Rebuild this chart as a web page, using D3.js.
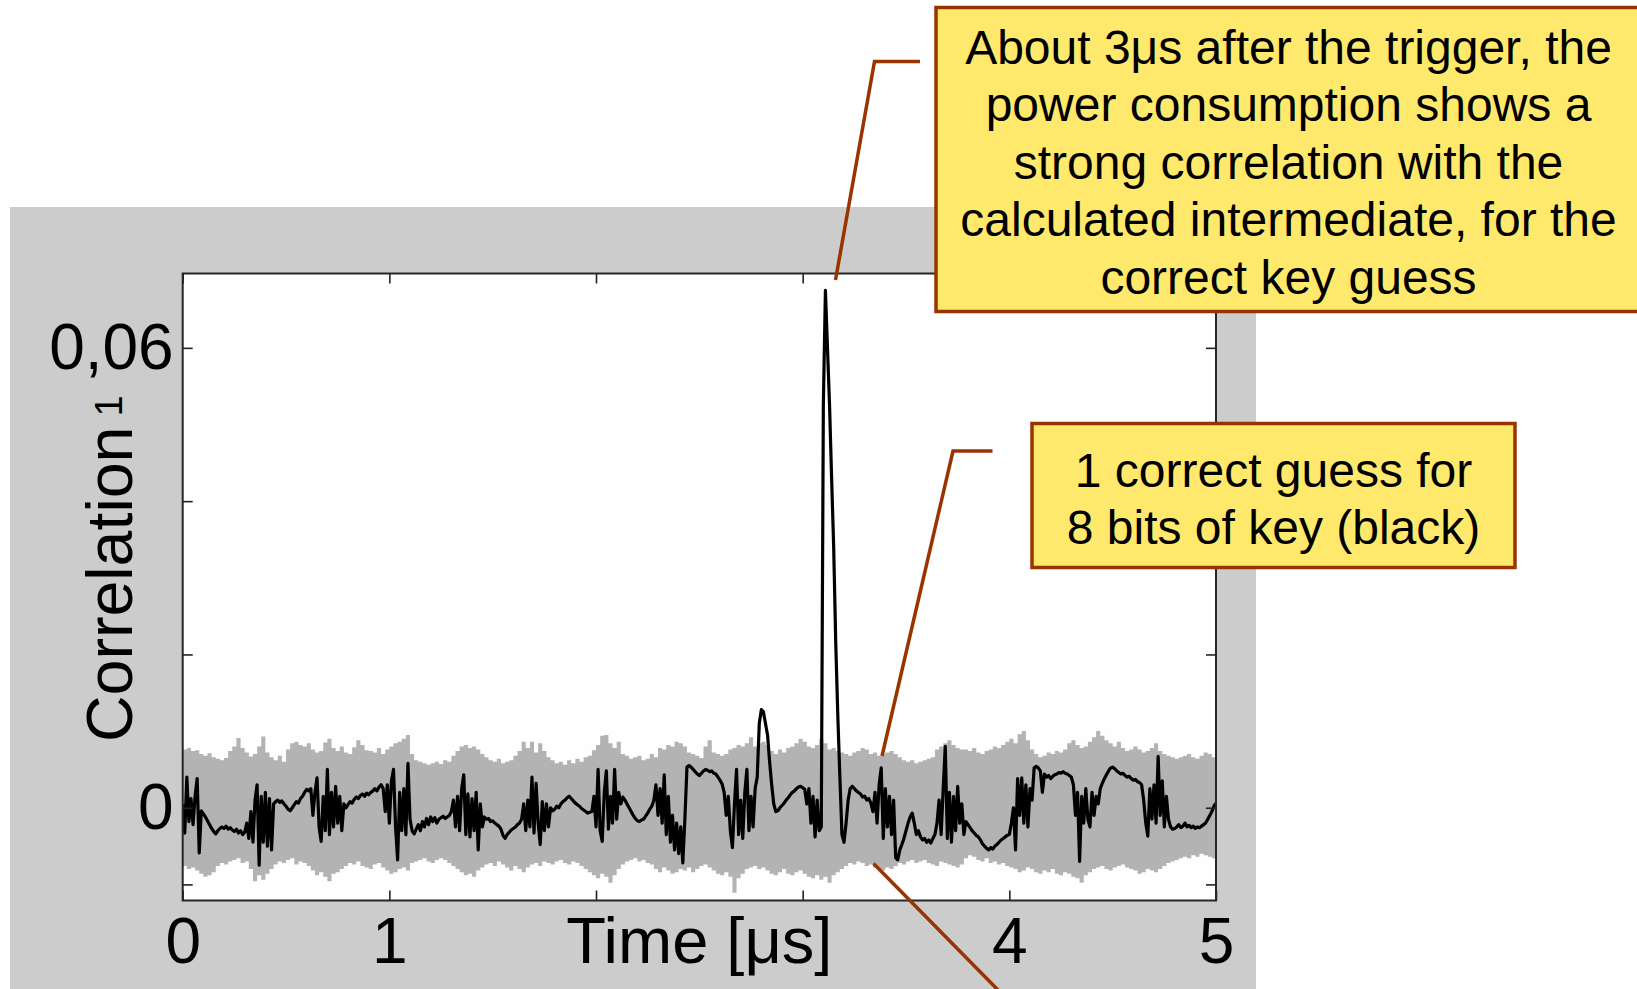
<!DOCTYPE html>
<html>
<head>
<meta charset="utf-8">
<script src="https://cdn.jsdelivr.net/npm/d3@7"></script>
<style>
  html, body { margin: 0; padding: 0; background: #fff; }
  svg { display: block; font-family: "Liberation Sans", Arial, sans-serif; }
</style>
</head>
<body>
<svg width="1637" height="989"></svg>
<script>
// correlation of the correct key guess, in units of 1e-4, one value every 0.01 µs
const correctStep = 0.01;
const correctGuess = [
  5, -33, 40, -18, 12, -22, 15, 38, -59, -4,
  -8, -12, -17, -22, -27, -31, -34, -30, -27, -25,
  -27, -24, -28, -26, -29, -31, -28, -33, -30, -35,
  -32, -20, -40, -5, -45, 10, 30, -75, 15, -45,
  20, -50, 12, -55, 5, 8, 10, 7, 9, 5,
  2, -2, -4, 0, 4, 8, 6, 12, 15, 20,
  24, 22, 25, -10, 20, 39, -25, -44, 15, -30,
  50, -35, 20, -25, 28, -20, 15, -30, 5, 0,
  4, 8, 6, 11, 14, 12, 16, 18, 15, 19,
  17, 20, 22, 25, 22, 27, 30, 25, -5, 30,
  -20, 35, 50, -25, -68, 20, -30, 25, -35, 58,
  -15, -30, -34, -28, -22, -30, -18, -25, -14, -22,
  -12, -18, -13, -20, -15, -13, -11, -14, -12, -10,
  -5, 10, -25, 15, -30, 25, 43, -35, 18, -38,
  12, -30, 20, -55, 5, -25, -12, -15, -14, -18,
  -17, -20, -22, -24, -28, -36, -40, -35, -32, -29,
  -27, -25, -22, -20, -15, 5, -30, 10, -25, 40,
  -33, 32, -20, -48, 8, -30, 5, -25, 0, -4,
  -2, 2, 0, 5, 8, 10, 13, 15, 12, 9,
  6, 4, 2, -1, -3, -5, -7, -6, -5, 15,
  -25, 50, -30, -44, 20, 48, -28, 15, -20, 50,
  -15, 20, 5, 14, 10, 5, 0, -5, -10, -14,
  -17, -18, -16, -15, -11, -7, -2, 2, 10, 30,
  -10, 25, -20, 43, -35, 15, -45, -10, -55, -20,
  -60, -25, -72, -15, 53, 55, 53, 50, 47, 44,
  42, 45, 48, 50, 49, 47, 48, 45, 44, 40,
  36, 31, 20, -10, 15, -30, -52, 5, 50, -35,
  10, -40, 20, 50, -30, 15, -25, 25, 40, 110,
  128, 125, 110, 95, 60, 30, 5, -5, -4, 0,
  3, 6, 10, 13, 17, 20, 22, 25, 27, 28,
  26, 24, 5, 25, -20, 15, -38, 10, -30, -25,
  525, 675, 600, 525, 430, 340, 215, 120, 40, -35,
  -45, -20, 10, 25, 28, 25, 22, 20, 18, 14,
  15, 10, 12, 6, -5, 20, -20, 30, 52, -40,
  25, -25, 15, -35, 10, -65, -68, -55, -48, -40,
  -30, -20, -12, -7, -20, -35, -30, -38, -42, -40,
  -45, -42, -46, -40, -35, -20, 10, -35, 25, 80,
  -40, 20, -45, 15, -30, 28, -20, 5, -35, -18,
  -22, -26, -30, -33, -36, -38, -42, -47, -50, -53,
  -55, -52, -54, -50, -48, -45, -42, -40, -38, -36,
  -35, -20, 0, -55, 38, -10, 39, -20, 30, -25,
  25, 10, 52, 54, 52, 48, 20, 44, 40, 42,
  38, 41, 43, 44, 46, 45, 47, 45, 44, 42,
  40, 30, -10, 20, -70, 15, -20, 25, -15, -25,
  20, -10, 15, 5, 25, 32, 38, 43, 48, 52,
  53, 51, 48, 46, 44, 45, 42, 40, 41, 38,
  36, 37, 34, 33, 30, 10, -20, -37, 25, -15,
  30, -20, 67, -10, 35, -25, 15, -15, -25, -28,
  -27, -25, -22, -26, -24, -20, -25, -23, -26, -24,
  -27, -25, -26, -24, -22, -20, -15, -10, -5, 2,
  6
];

// envelope of the wrong key guesses (grey), units of 1e-4, one value every 0.02 µs
const wrongStep = 0.02;
const wrongUpper = [
  76, 78, 74, 75, 70, 68, 71, 66, 64, 62,
  65, 74, 80, 91, 78, 72, 67, 70, 80, 93,
  72, 66, 62, 68, 60, 76, 84, 86, 82, 80,
  84, 76, 72, 74, 85, 90, 78, 74, 80, 72,
  70, 79, 88, 82, 75, 74, 72, 78, 70, 76,
  80, 84, 86, 90, 95, 70, 62, 60, 58, 56,
  58, 60, 57,
  62, 60, 68, 74, 80, 82, 78,
  80, 76, 70, 66, 62, 60, 64, 58, 60, 62,
  68, 74, 86, 78, 86, 72, 84, 74, 66, 62,
  58, 60, 56, 62, 58, 64, 60, 66, 68, 75,
  82, 94, 95, 84, 78, 86, 70, 68, 64, 66,
  68, 62, 64, 70, 66, 78, 76, 82, 80, 86,
  84, 80, 72, 70, 68, 65,
  80, 88, 72, 70,
  68, 70, 76, 78, 82, 80, 84, 92, 80, 84,
  86, 82, 74, 70, 76, 72, 78, 80, 84, 90,
  86, 80, 78, 82, 90, 84, 76, 78, 74, 72,
  70, 68, 72, 74, 78, 76, 70, 72, 68, 70,
  72, 74, 70, 66, 62, 60, 62, 58, 60, 62,
  64, 66, 76, 80, 84, 88, 82, 78, 76,
  76, 74, 78, 72, 70, 74, 76, 80, 78, 82, 86,
  90, 84, 96, 100, 88, 76, 70, 66, 68, 72,
  70, 74, 72, 76, 84, 88, 82, 78, 80, 86,
  92, 100, 94, 88, 84, 80, 86, 78, 74, 76,
  80, 76, 72, 74, 78, 84, 74, 70, 68, 66,
  64, 66, 68, 70, 66, 64, 68, 72, 70, 66, 64
];
const wrongLower = [
  -76, -80, -78, -82, -86, -90, -88, -84, -76, -72,
  -74, -70, -68, -66, -72, -70, -80, -96, -88, -94,
  -86, -80, -74, -70, -72, -68, -66, -74, -70, -72,
  -76, -82, -88, -84, -90, -96, -86, -84, -80, -76,
  -72, -74, -70, -76, -78, -80, -74, -72, -78, -82,
  -86, -84, -80, -78, -82, -72, -70, -68, -66, -70,
  -72, -68, -66,
  -68, -72, -76, -80, -84, -88, -86,
  -90, -82, -78, -74, -72, -76, -70, -74, -78, -82,
  -76, -80, -84, -78, -74, -72, -76, -70, -72, -74,
  -70, -68, -72, -74, -70, -72, -76, -80, -84, -88,
  -92, -86, -90, -98, -88, -80, -74, -70, -68, -66,
  -70, -68, -72, -74, -80, -84, -78, -82, -86, -84,
  -80, -82, -78, -84, -80, -76,
  -74, -78, -82, -86,
  -88, -84, -90, -111, -92, -86, -80, -78, -76, -80,
  -78, -82, -86, -88, -84, -80, -86, -88, -84, -82,
  -86, -90, -92, -88, -94, -90, -98, -88, -84, -80,
  -76, -72, -74, -70, -72, -76, -74, -78, -80, -82,
  -78, -80, -76, -72, -74, -70, -68, -72, -70, -68,
  -72, -74, -76, -70, -72, -74, -76, -78, -74,
  -66, -62, -64, -68, -70, -66, -72, -70, -74, -72, -76,
  -78, -80, -84, -82, -78, -80, -84, -86, -82, -84,
  -80, -86, -88, -84, -86, -90, -92, -98, -88, -84,
  -80, -78, -76, -80, -82, -78, -76, -74, -78, -80,
  -82, -86, -84, -80, -82, -84, -80, -76, -72, -70,
  -68, -66, -64, -66, -62, -64, -60, -62, -64, -66, -68
];

const xTicks = [0, 1, 2, 3, 4, 5];
const xTickLabels = ["0", "1", "", "", "4", "5"];
const yTicks = [-0.01, 0, 0.02, 0.04, 0.06];
const yTickLabels = ["", "0", "", "", "0,06"];
const xTitle = "Time [μs]";
const yTitle = "Correlation";
const yTitleNote = "1";

const calloutPeak = [
  "About 3μs after the trigger, the",
  "power consumption shows a",
  "strong correlation with the",
  "calculated intermediate, for the",
  "correct key guess"
];
const calloutBlack = [
  "1 correct guess for",
  "8 bits of key (black)"
];

const svg = d3.select("svg");
const unit = 1e-4;

// area of the figure (grey panel) and of the plot
const plot = { left: 182.7, right: 1216, top: 273.5, bottom: 900.5 };

svg.append("rect")
  .attr("x", 10).attr("y", 207)
  .attr("width", 1246).attr("height", 790)
  .attr("fill", "#cccccc");

svg.append("rect")
  .attr("x", plot.left).attr("y", plot.top)
  .attr("width", plot.right - plot.left).attr("height", plot.bottom - plot.top)
  .attr("fill", "#fefefe");

const x = d3.scaleLinear().domain([0, 5]).range([plot.left, plot.right]);
const y = d3.scaleLinear().domain([-0.0121, 0.0697]).range([plot.bottom, plot.top]);

svg.append("clipPath").attr("id", "clip")
  .append("rect")
  .attr("x", plot.left).attr("y", plot.top)
  .attr("width", plot.right - plot.left).attr("height", plot.bottom - plot.top);

const traces = svg.append("g").attr("clip-path", "url(#clip)");

// grey band = all the wrong key guesses
const band = d3.area()
  .x((d, i) => x(i * wrongStep))
  .y0((d, i) => y(wrongLower[i] * unit))
  .y1(d => y(d * unit))
  .curve(d3.curveStepAfter);

traces.append("path")
  .datum(wrongUpper)
  .attr("fill", "#b3b3b3")
  .attr("d", band);

// black trace = correct key guess
const line = d3.line()
  .x((d, i) => x(i * correctStep))
  .y(d => y(d * unit));

traces.append("path")
  .datum(correctGuess)
  .attr("fill", "none")
  .attr("stroke", "#000")
  .attr("stroke-width", 3.2)
  .attr("stroke-linejoin", "round")
  .attr("d", line);

// axes, ticks pointing inward on all four sides
const styleAxis = g => {
  g.select(".domain").remove();
  g.selectAll(".tick line").attr("stroke", "#222").attr("stroke-width", 1.6);
  g.selectAll(".tick text")
    .attr("fill", "#000")
    .attr("font-size", 64)
    .attr("font-family", "'Liberation Sans', Arial, sans-serif");
};

svg.append("g")
  .attr("transform", `translate(0,${plot.bottom})`)
  .call(d3.axisBottom(x).tickValues(xTicks)
    .tickFormat((d, i) => xTickLabels[i])
    .tickSizeInner(-10).tickSizeOuter(0).tickPadding(17))
  .call(styleAxis);

svg.append("g")
  .attr("transform", `translate(0,${plot.top})`)
  .call(d3.axisTop(x).tickValues(xTicks).tickFormat("")
    .tickSizeInner(-10).tickSizeOuter(0))
  .call(styleAxis);

svg.append("g")
  .attr("transform", `translate(${plot.left},0)`)
  .call(d3.axisLeft(y).tickValues(yTicks)
    .tickFormat((d, i) => yTickLabels[i])
    .tickSizeInner(-10).tickSizeOuter(0).tickPadding(9))
  .call(styleAxis);

svg.append("g")
  .attr("transform", `translate(${plot.right},0)`)
  .call(d3.axisRight(y).tickValues(yTicks).tickFormat("")
    .tickSizeInner(-10).tickSizeOuter(0))
  .call(styleAxis);

// frame of the plot
svg.append("rect")
  .attr("x", plot.left).attr("y", plot.top)
  .attr("width", plot.right - plot.left).attr("height", plot.bottom - plot.top)
  .attr("fill", "none")
  .attr("stroke", "#262626")
  .attr("stroke-width", 2);

// axis titles
svg.append("text")
  .attr("x", x(2.5))
  .attr("y", 962.5)
  .attr("text-anchor", "middle")
  .attr("font-size", 65)
  .attr("fill", "#000")
  .text(xTitle);

const yLabel = svg.append("text")
  .attr("transform", "translate(132,742) rotate(-90)")
  .attr("text-anchor", "start")
  .attr("font-size", 64.5)
  .attr("fill", "#000");
yLabel.append("tspan").text(yTitle);
yLabel.append("tspan")
  .attr("dx", 10)
  .attr("dy", -10)
  .attr("font-size", 38)
  .text(yTitleNote);

// callouts
const brown = "#993300";

const leader = d3.line();
svg.append("path")
  .attr("d", leader([[920, 61.5], [874.5, 61.5], [835.5, 280]]))
  .attr("fill", "none").attr("stroke", brown).attr("stroke-width", 3.5);
svg.append("path")
  .attr("d", leader([[992.5, 451], [953, 451], [882, 756]]))
  .attr("fill", "none").attr("stroke", brown).attr("stroke-width", 3.5);
svg.append("path")
  .attr("d", leader([[873.5, 863.5], [1000, 992]]))
  .attr("fill", "none").attr("stroke", brown).attr("stroke-width", 3.5);

function callout(lines, box, firstBaseline, lineHeight) {
  const g = svg.append("g");
  g.append("rect")
    .attr("x", box.x).attr("y", box.y)
    .attr("width", box.w).attr("height", box.h)
    .attr("fill", "#ffe96d")
    .attr("stroke", brown)
    .attr("stroke-width", 3.5);
  g.selectAll("text")
    .data(lines)
    .enter()
    .append("text")
    .attr("x", box.x + box.w / 2)
    .attr("y", (d, i) => firstBaseline + i * lineHeight)
    .attr("text-anchor", "middle")
    .attr("font-size", 48)
    .attr("fill", "#000")
    .text(d => d);
}

callout(calloutPeak, { x: 936, y: 7.5, w: 705, h: 304 }, 64, 57.4);
callout(calloutBlack, { x: 1032, y: 423.5, w: 483, h: 144 }, 487, 57.4);
</script>
</body>
</html>
